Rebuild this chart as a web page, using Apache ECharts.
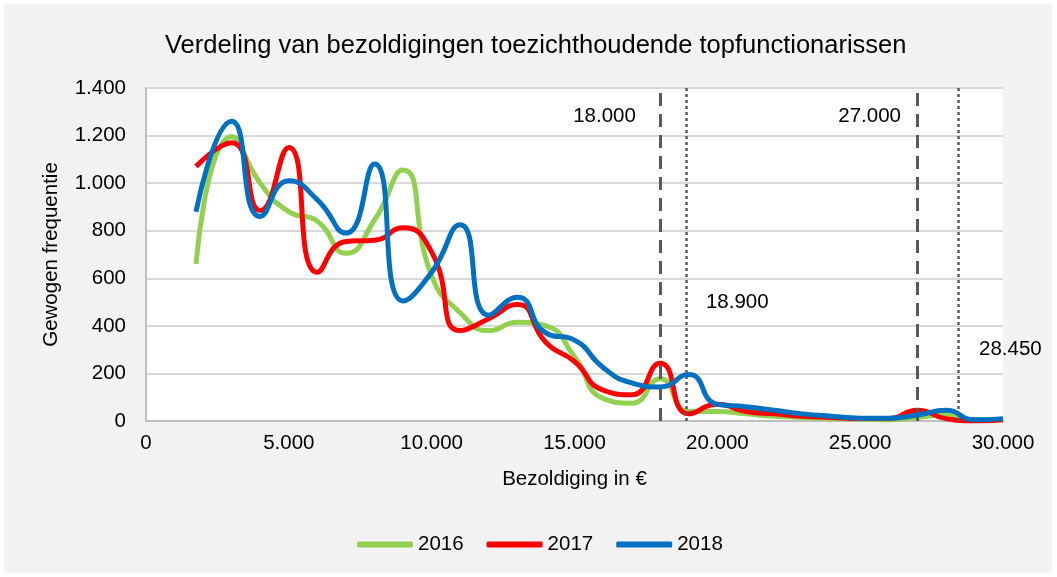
<!DOCTYPE html>
<html>
<head>
<meta charset="utf-8">
<title>Verdeling van bezoldigingen</title>
<script src="https://cdn.jsdelivr.net/npm/echarts@6/dist/echarts.min.js"></script>
<style>
  html, body { margin: 0; padding: 0; background: #ffffff; }
  #chart { position: absolute; left: 4px; top: 4px; width: 1048px; height: 569px; }
</style>
</head>
<body>
<div id="chart"></div>
<script>
  // bezoldiging (x) en gewogen frequentie per jaar
  const salaries = [1750, 3000, 4000, 5000, 6000, 7000, 8000, 9000, 10000, 11000, 12000, 13000, 14000, 15000,
    16000, 17000, 18000, 19000, 20000, 21000, 22000, 23000, 24000, 25000, 26000, 27000, 28000, 29000, 30000];
  const freq2016 = [660, 1195, 1000, 880, 840, 705, 845, 1055, 610, 455, 380, 415, 400, 270,
    95, 75, 178, 40, 40, 30, 20, 15, 10, 8, 5, 15, 25, 5, 5];
  const freq2017 = [1070, 1170, 885, 1150, 625, 755, 760, 812, 710, 380, 430, 490, 330, 250,
    130, 110, 243, 30, 70, 40, 30, 20, 15, 10, 10, 45, 10, 0, 5];
  const freq2018 = [880, 1260, 860, 1010, 930, 790, 1080, 505, 625, 825, 445, 520, 370, 340,
    225, 160, 143, 195, 70, 60, 45, 30, 20, 12, 12, 25, 45, 5, 10];
  const years = ['2016', '2017', '2018'];
  const colors = ['#92d050', '#ff0000', '#0070c0'];

  // grenswaarden: gestreept en gestippeld
  const dashedLimits = [18000, 27000];
  const dottedLimits = [18900, 28450];
  const limitLabels = [
    { text: '18.000', at: [17150, 1282], pos: 'left' },
    { text: '27.000', at: [26430, 1282], pos: 'left' },
    { text: '18.900', at: [19600, 500], pos: 'right' },
    { text: '28.450', at: [29160, 300], pos: 'right' },
  ];

  const fmt = (v) => String(v).replace(/\B(?=(\d{3})+(?!\d))/g, '.');
  const font = 'Liberation Sans, Arial, sans-serif';
  const fs = 20.5;

  const chart = echarts.init(document.getElementById('chart'));

  const lineSeries = [freq2016, freq2017, freq2018].map((vals, i) => ({
    name: years[i],
    type: 'line',
    smooth: 0.55,
    showSymbol: false,
    symbol: 'none',
    data: salaries.map((x, j) => [x, vals[j]]),
    lineStyle: { color: colors[i], width: 5 },
    itemStyle: { color: colors[i] },
    z: 3 + i,
  }));

  const limitMarks = {
    name: 'grenzen',
    type: 'line',
    data: [],
    markLine: {
      silent: true,
      symbol: 'none',
      label: { show: false },
      data: [
        ...dashedLimits.map((x) => ({ xAxis: x, lineStyle: { color: '#595959', width: 3, type: [13, 8] } })),
        ...dottedLimits.map((x) => ({ xAxis: x, lineStyle: { color: '#595959', width: 2.5, type: [3, 3] } })),
      ],
    },
    z: 2,
  };

  const labelSeries = {
    name: 'labels',
    type: 'scatter',
    symbolSize: 0,
    silent: true,
    itemStyle: { opacity: 1 },
    data: limitLabels.map((l) => ({
      value: l.at,
      label: { show: true, formatter: l.text, position: l.pos, distance: 0, color: '#000', fontSize: fs, fontFamily: font },
    })),
  };

  chart.setOption({
    backgroundColor: '#f2f2f2',
    animation: false,
    title: {
      text: 'Verdeling van bezoldigingen toezichthoudende topfunctionarissen',
      left: 156,
      top: 24,
      textStyle: { fontSize: 25.5, fontWeight: 'normal', color: '#000', fontFamily: font },
    },
    legend: {
      data: years,
      bottom: 13,
      left: 348,
      icon: 'roundRect',
      itemWidth: 56,
      itemHeight: 6,
      itemGap: 23,
      textStyle: { fontSize: fs, color: '#000', fontFamily: font },
    },
    grid: {
      left: 142,
      right: 49,
      top: 84,
      bottom: 152,
      show: true,
      backgroundColor: '#ffffff',
      borderWidth: 0,
    },
    xAxis: {
      type: 'value',
      min: 0,
      max: 30000,
      interval: 5000,
      name: 'Bezoldiging in €',
      nameLocation: 'middle',
      nameGap: 48,
      nameTextStyle: { fontSize: fs, color: '#000', fontFamily: font },
      axisLine: { show: true, lineStyle: { color: '#bfbfbf', width: 2 } },
      axisTick: { show: false },
      splitLine: { show: false },
      axisLabel: { formatter: fmt, fontSize: fs, color: '#000', margin: 12, fontFamily: font },
    },
    yAxis: {
      type: 'value',
      min: 0,
      max: 1400,
      interval: 200,
      name: 'Gewogen frequentie',
      nameLocation: 'middle',
      nameGap: 84,
      nameTextStyle: { fontSize: fs, color: '#000', fontFamily: font },
      axisLine: { show: true, lineStyle: { color: '#bfbfbf', width: 2 } },
      axisTick: { show: false },
      splitLine: { lineStyle: { color: '#d9d9d9', width: 2 } },
      axisLabel: { formatter: fmt, fontSize: fs, color: '#000', margin: 20, fontFamily: font },
    },
    series: [limitMarks, ...lineSeries, labelSeries],
  });
</script>
</body>
</html>
